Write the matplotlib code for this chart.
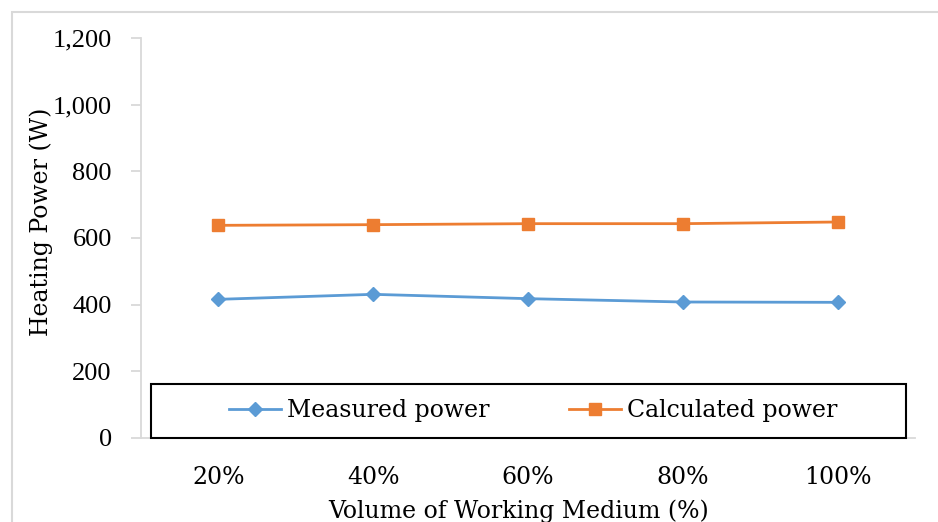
import matplotlib
matplotlib.use("Agg")
import matplotlib.pyplot as plt
from matplotlib.patches import Rectangle

plt.rcParams['font.family'] = ['DejaVu Serif']

# data
volumes = ['20%', '40%', '60%', '80%', '100%']
measured = [416, 431, 418, 408, 407]
calculated = [638, 640, 643, 643, 648]

blue = '#5B9BD5'
orange = '#ED7D31'
grey = '#D9D9D9'
fs = 17

fig = plt.figure(figsize=(9.38, 5.22), dpi=100)
ax = fig.add_axes([141/938, 1 - 438/522, 774/938, 400/522])

x = range(len(volumes))
ax.plot(x, measured, color=blue, lw=2, marker='D', markersize=7,
        label='Measured power')
ax.plot(x, calculated, color=orange, lw=2, marker='s', markersize=8.5,
        label='Calculated power')

ax.set_xlim(-0.5, len(volumes) - 0.5)
ax.set_ylim(0, 1200)
ax.set_yticks(range(0, 1201, 200))
ax.set_yticklabels(['{:,}'.format(v) for v in range(0, 1201, 200)],
                   family='Liberation Serif', fontsize=19)
ax.set_xticks(list(x))
ax.set_xticklabels(volumes, fontsize=fs)

for s in ['top', 'right']:
    ax.spines[s].set_visible(False)
ax.spines['left'].set_color(grey)
ax.spines['left'].set_linewidth(1.3)
ax.spines['bottom'].set_color(grey)
ax.spines['bottom'].set_linewidth(1.3)

ax.tick_params(axis='y', direction='out', length=7, width=1.3, color=grey,
               pad=14)
ax.tick_params(axis='x', length=0, pad=20)

ax.set_ylabel('Heating Power (W)', fontsize=fs)
ax.yaxis.set_label_coords((53 - 141) / 774, (438 - 221.5) / 400)
ax.set_xlabel('Volume of Working Medium (%)', fontsize=fs)
ax.xaxis.set_label_coords((518.5 - 141) / 774, (438 - 499) / 400)

# legend box drawn over the bottom of the plot area
lx0, lx1, ly0, ly1 = 151, 906, 438, 384
box = Rectangle((lx0/938, 1 - ly0/522), (lx1 - lx0)/938, (ly0 - ly1)/522,
                transform=fig.transFigure, facecolor='white',
                edgecolor='black', lw=1.5, zorder=5)
fig.patches.append(box)
leg = fig.legend(loc='center', bbox_to_anchor=((lx0 + lx1) / 2 / 938 + 0.005,
                                               1 - (ly0 + ly1) / 2 / 522),
                 ncol=2, frameon=False, fontsize=fs, handlelength=2.2,
                 handletextpad=0.25, columnspacing=3.4)
leg.set_zorder(6)

# outer chart border
fig.patches.append(Rectangle((12/938, -0.1), 1.0, 1 - 11.5/522 + 0.1,
                             transform=fig.transFigure, fill=False,
                             edgecolor=grey, lw=1.5, clip_on=False))

fig.savefig('out.png', dpi=100)
